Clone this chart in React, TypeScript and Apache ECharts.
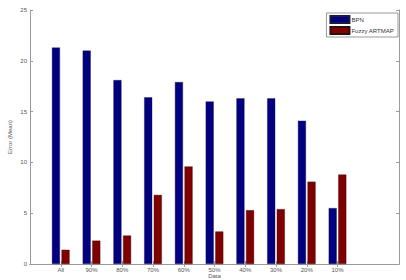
import React, { useEffect, useRef } from "react";
import * as echarts from "echarts";

const categories = ["All", "90%", "80%", "70%", "60%", "50%", "40%", "30%", "20%", "10%"];
const bpn = [21.3, 21.0, 18.1, 16.4, 17.9, 16.0, 16.3, 16.3, 14.1, 5.5];
const fuzzy = [1.4, 2.3, 2.8, 6.8, 9.6, 3.2, 5.3, 5.4, 8.1, 8.8];
const yTicks = [0, 5, 10, 15, 20, 25];

export default function App() {
  const ref = useRef<HTMLDivElement>(null);
  useEffect(() => {
    if (!ref.current) return;
    const chart = echarts.init(ref.current, undefined, { renderer: "svg" });
    const slots = ["", ...categories, " ", "  "];
    const pad = (arr: number[]) => ["-", ...arr, "-", "-"];
    const axisColor = "#9a9a9a";
    const textColor = "#555";
    const isCat = (v: string) => categories.indexOf(v) >= 0;
    chart.setOption({
      animation: false,
      backgroundColor: "#fff",
      textStyle: { fontFamily: "Liberation Sans, Arial, sans-serif" },
      grid: { left: 30, top: 10, right: 7, bottom: 16, containLabel: false, outerBoundsMode: "none" },
      legend: {
        orient: "vertical",
        right: 8,
        top: 13,
        padding: [2, 4, 2, 3],
        itemGap: 2,
        itemWidth: 19,
        itemHeight: 7,
        icon: "rect",
        borderColor: "#555",
        borderWidth: 0.6,
        borderRadius: 0,
        backgroundColor: "#fff",
        textStyle: { fontSize: 6, color: "#333", padding: [0, 0, 0, -3] },
        data: ["BPN", "Fuzzy ARTMAP"],
      },
      xAxis: [
        {
          type: "category",
          data: slots,
          boundaryGap: false,
          name: "Data",
          nameLocation: "middle",
          nameGap: 9,
          nameMoveOverlap: false,
          nameTextStyle: { fontSize: 6, color: textColor },
          axisLine: { lineStyle: { color: axisColor, width: 1 } },
          axisTick: {
            inside: true,
            length: 3,
            alignWithLabel: true,
            interval: (_i: number, v: string) => isCat(v),
            lineStyle: { color: axisColor },
          },
          axisLabel: {
            fontSize: 6,
            color: textColor,
            margin: 3,
            interval: (_i: number, v: string) => isCat(v),
          },
          splitLine: { show: false },
        },
        {
          type: "category",
          data: slots,
          boundaryGap: false,
          position: "top",
          axisLine: { lineStyle: { color: axisColor, width: 1 } },
          axisTick: {
            inside: true,
            length: 3,
            interval: (_i: number, v: string) => isCat(v),
            lineStyle: { color: axisColor },
          },
          axisLabel: { show: false },
        },
      ],
      yAxis: [
        {
          type: "value",
          min: 0,
          max: 25,
          interval: 5,
          name: "Error (Mean)",
          nameLocation: "middle",
          nameGap: 17,
          nameMoveOverlap: false,
          nameTextStyle: { fontSize: 6, color: textColor },
          axisLine: { show: true, lineStyle: { color: axisColor, width: 1 } },
          axisTick: { show: true, inside: true, length: 3, lineStyle: { color: axisColor } },
          axisLabel: {
            fontSize: 6,
            color: textColor,
            margin: 3,
            formatter: (v: number) => (yTicks.indexOf(v) >= 0 ? String(v) : ""),
          },
          splitLine: { show: false },
        },
        {
          type: "value",
          min: 0,
          max: 25,
          interval: 5,
          position: "right",
          axisLine: { show: true, lineStyle: { color: axisColor, width: 1 } },
          axisTick: { show: true, inside: true, length: 3, lineStyle: { color: axisColor } },
          axisLabel: { show: false },
          splitLine: { show: false },
        },
      ],
      series: [
        {
          name: "BPN",
          type: "bar",
          data: pad(bpn),
          barWidth: 8,
          barGap: "20%",
          itemStyle: { color: "#000080", borderColor: "#1a1a3a", borderWidth: 0.4 },
        },
        {
          name: "Fuzzy ARTMAP",
          type: "bar",
          data: pad(fuzzy),
          barWidth: 8,
          barGap: "20%",
          itemStyle: { color: "#800000", borderColor: "#2a1010", borderWidth: 0.4 },
        },
      ],
    });
    return () => chart.dispose();
  }, []);
  return (
    <div
      ref={ref}
      style={{ position: "fixed", left: 0, top: 0, width: 406, height: 280, background: "#fff" }}
    />
  );
}
